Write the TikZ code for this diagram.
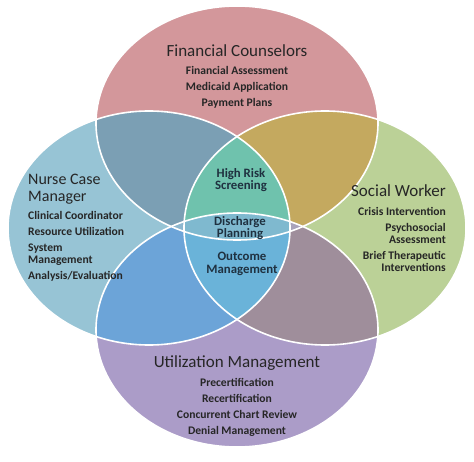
\documentclass[tikz,border=0pt]{standalone}
\usepackage{fontspec}
\setmainfont{Carlito}
\usepackage{tikz}

\definecolor{finPink}{HTML}{D3979B}
\definecolor{nurseBlue}{HTML}{97C4D5}
\definecolor{socialGreen}{HTML}{BBD197}
\definecolor{utilPurple}{HTML}{AB9CC8}
\definecolor{finNurse}{HTML}{7B9FB4}
\definecolor{finSocial}{HTML}{C4A95F}
\definecolor{utilNurse}{HTML}{6CA4D8}
\definecolor{utilSocial}{HTML}{9F8E9B}
\definecolor{screenTeal}{HTML}{6FC2AD}
\definecolor{outcomeBlue}{HTML}{6AB3D9}
\definecolor{dischargeBlue}{HTML}{7FB9CF}
\definecolor{tipLeft}{HTML}{8DB7CF}
\definecolor{tipRight}{HTML}{A9A3BB}
\definecolor{txtDark}{HTML}{262626}
\definecolor{coreText}{HTML}{1F3140}

% the four circles of the diagram
\def\finEll{(237,123) ellipse (141pt and 117pt)}
\def\nurseEll{(149,228) ellipse (141pt and 117pt)}
\def\socialEll{(325,228) ellipse (141pt and 117pt)}
\def\utilEll{(237,330) ellipse (141pt and 117pt)}

\begin{document}
\begin{tikzpicture}[
    x=1pt, y=-1pt,
    title/.style={font=\fontsize{17}{17}\selectfont, text=txtDark, inner sep=0pt},
    item/.style={font=\bfseries\fontsize{11.6}{12}\selectfont, text=txtDark, inner sep=0pt},
    core/.style={font=\bfseries\fontsize{12.8}{12.8}\selectfont, text=coreText,
                 align=center, inner sep=0pt},
    rim/.style={draw=white, line width=1.6pt},
]
\useasboundingbox[fill=white] (0,0) rectangle (474,462);

% single areas
\fill[finPink] \finEll;
\fill[nurseBlue] \nurseEll;
\fill[socialGreen] \socialEll;
\fill[utilPurple] \utilEll;

% overlaps of two
\begin{scope}
  \clip \finEll;
  \fill[finNurse] \nurseEll;
  \fill[finSocial] \socialEll;
\end{scope}
\begin{scope}
  \clip \utilEll;
  \fill[utilNurse] \nurseEll;
  \fill[utilSocial] \socialEll;
\end{scope}

% overlaps of three
\begin{scope}
  \clip \nurseEll;
  \clip \socialEll;
  \fill[screenTeal] \finEll;
  \fill[outcomeBlue] \utilEll;
\end{scope}
\begin{scope}
  \clip \finEll;
  \clip \utilEll;
  \fill[tipLeft] \nurseEll;
  \fill[tipRight] \socialEll;
  % all four
  \clip \nurseEll;
  \fill[dischargeBlue] \socialEll;
\end{scope}

% white rims
\draw[rim] \finEll;
\draw[rim] \nurseEll;
\draw[rim] \socialEll;
\draw[rim] \utilEll;

% Financial Counselors
\node[title] (fin) at (237,51) {Financial Counselors};
\node[item, align=center] (finItems) at (237,87)
  {Financial Assessment\\[4pt] Medicaid Application\\[4pt] Payment Plans};

% Nurse Case Manager
\node[title, align=left, anchor=west, font=\fontsize{16}{17}\selectfont] (nurse) at (28,189)
  {Nurse Case\\ Manager};
\node[item, align=left, anchor=west] (nurseItems) at (28,246)
  {Clinical Coordinator\\[4pt] Resource Utilization\\[4pt] System\\ Management\\[4pt] Analysis/Evaluation};

% Social Worker
\node[title, anchor=east] (social) at (446,191) {Social Worker};
\node[item, align=right, anchor=east] (socialItems) at (446,239)
  {Crisis Intervention\\[4pt] Psychosocial\\ Assessment\\[4pt] Brief Therapeutic\\ Interventions};

% Utilization Management
\node[title] (util) at (237,363) {Utilization Management};
\node[item, align=center] (utilItems) at (237,407)
  {Precertification\\[4pt] Recertification\\[4pt] Concurrent Chart Review\\[4pt] Denial Management};

% shared tasks in the middle
\node[core] (screen) at (241,180) {High Risk\\ Screening};
\node[core] (discharge) at (240,228) {Discharge\\ Planning};
\node[core] (outcome) at (242,264) {Outcome\\ Management};

\end{tikzpicture}
\end{document}
